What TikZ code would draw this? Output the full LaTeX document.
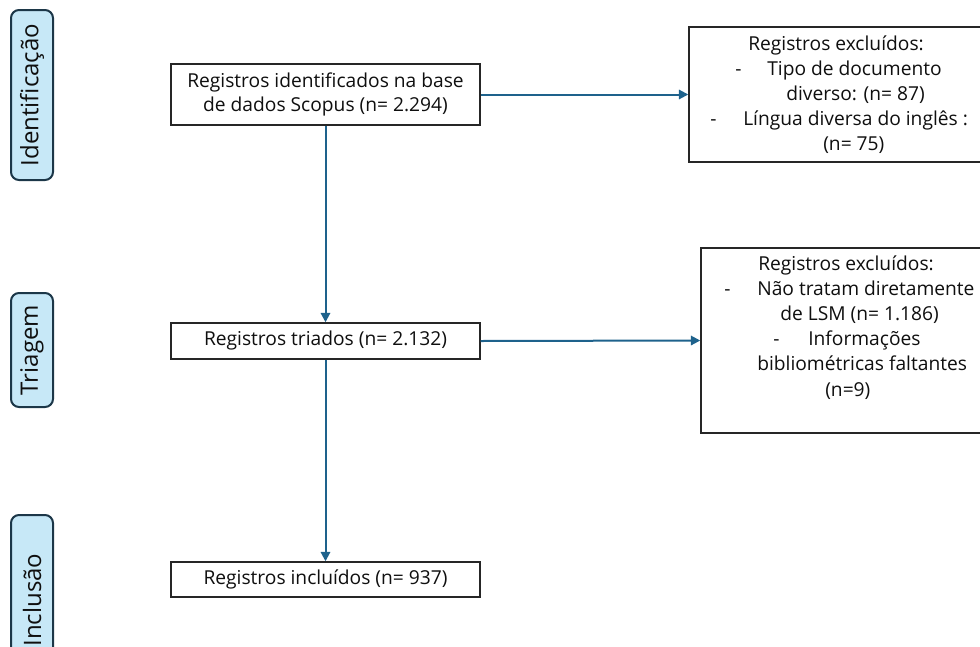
\documentclass[tikz,border=0pt]{standalone}
\usepackage{fontspec}
\setmainfont{Open Sans}
\usetikzlibrary{arrows.meta}
\definecolor{conncol}{RGB}{30,98,140}
\definecolor{lblfill}{RGB}{199,232,247}
\definecolor{lbldraw}{RGB}{28,55,72}
\definecolor{txtcol}{RGB}{15,15,15}
\begin{document}
\begin{tikzpicture}[x=0.75pt,y=-0.75pt,
  box/.style={draw=black!85, line width=1.1pt, inner sep=0pt, fill=white},
  txt/.style={font=\fontsize{14.4}{18}\selectfont, text=txtcol, inner sep=0pt},
  line/.style={txt, anchor=west, text height=0.72em, text depth=0pt},
  conn/.style={draw=conncol, line width=1.5pt, -{Triangle[length=7pt,width=7pt]}},
  side/.style={draw=lbldraw, fill=lblfill, line width=1.5pt, rounded corners=6pt,
    rotate=90, minimum height=31.5pt, inner sep=0pt,
    font=\fontsize{18}{20}\selectfont, text=txtcol}]
\clip (0,0) rectangle (980,646);
% side labels
\node[side, minimum width=127.5pt] (sid) at (32,95) {Identificação};
\node[side, minimum width=85.5pt] (str) at (32,350) {Triagem};
\node[side, minimum width=127.5pt] (sin) at (32,600) {Inclusão};
% main boxes
\node[box, txt, align=center, minimum width=231.75pt, minimum height=45.75pt] (b1) at (325.5,94.5)
  {Registros identificados na base\\de dados Scopus (n= 2.294)};
\node[box, txt, minimum width=231.75pt, minimum height=27pt] (b2) at (325.5,341)
  {Registros triados (n= 2.132)};
\node[box, txt, minimum width=231.75pt, minimum height=26.25pt] (b3) at (325.5,579.5)
  {Registros incluídos (n= 937)};
% exclusion boxes
\node[box, minimum width=225.75pt, minimum height=101.25pt] (tr) at (839.5,94.5) {};
\node[box, minimum width=216.75pt, minimum height=138.75pt] (mr) at (845.5,340.5) {};
% connectors
\draw[conn] (b1.east) -- (tr.west);
\draw[conn] (b1.south) -- (b2.north);
\draw[conn] (b2.east) -- (mr.west);
\draw[conn] (b2.south) -- (b3.north);
% text of top exclusion box
\node[line] (ta) at (748,46) {Registros excluídos:};
\node[line] (tb0) at (735,71) {-};
\node[line] (tb) at (767,71) {Tipo de documento};
\node[line] (tc) at (786,96) {diverso: (n= 87)};
\node[line] (td0) at (710,121) {-};
\node[line] (td) at (743,121) {Língua diversa do inglês :};
\node[line] (te) at (823,146) {(n= 75)};
% text of middle exclusion box
\node[line] (ma) at (758,266) {Registros excluídos:};
\node[line] (mb0) at (724,291) {-};
\node[line] (mb) at (757,291) {Não tratam diretamente};
\node[line] (mc) at (780,316) {de LSM (n= 1.186)};
\node[line] (md0) at (773,341) {-};
\node[line] (md) at (808,341) {Informações};
\node[line] (me) at (757,366) {bibliométricas faltantes};
\node[line] (mf) at (825,392) {(n=9)};
\end{tikzpicture}
\end{document}
